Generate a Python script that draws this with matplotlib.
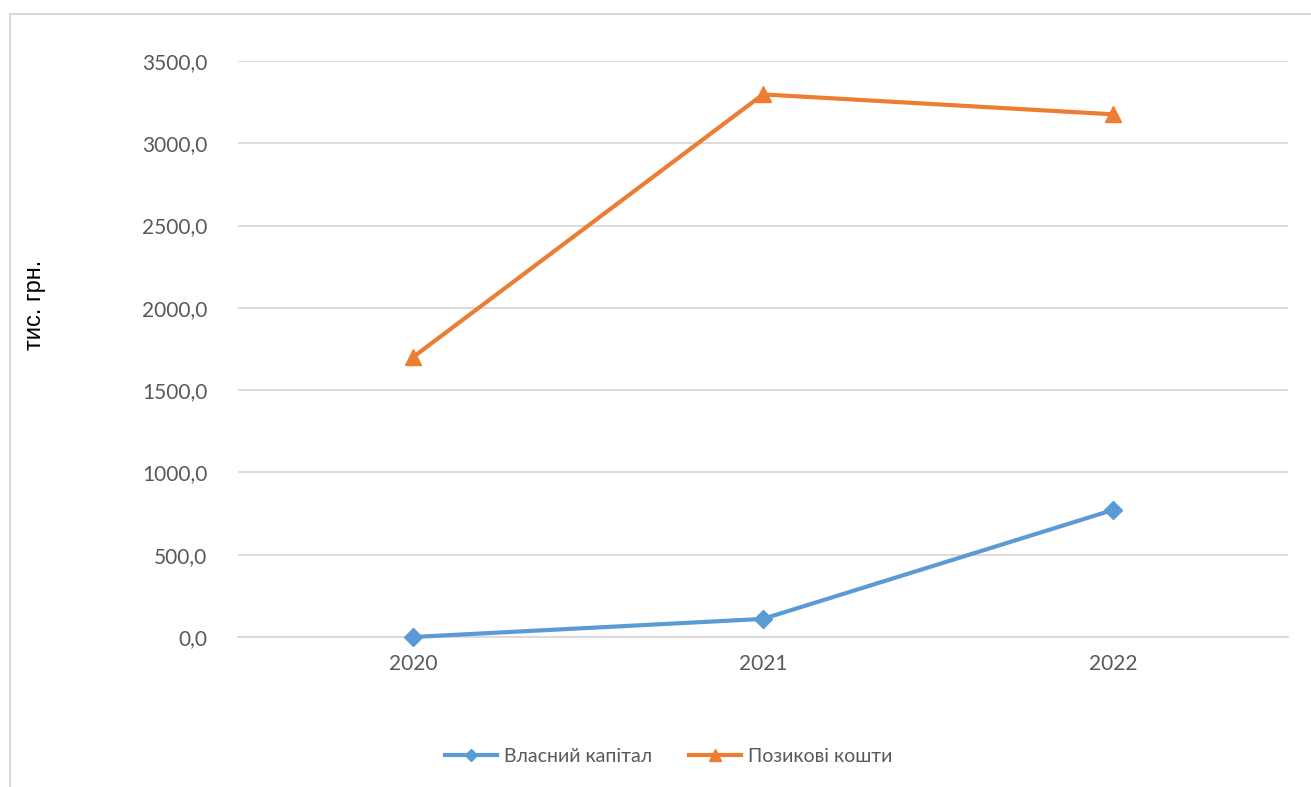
import matplotlib.pyplot as plt
from matplotlib.patches import Rectangle

years = ['2020', '2021', '2022']
own_capital = [0.0, 110.0, 772.0]
borrowed = [1700.0, 3297.0, 3176.0]

plt.rcParams['font.family'] = ['Lato', 'DejaVu Sans']

fig = plt.figure(figsize=(13.11, 7.87), dpi=100)
ax = fig.add_axes([0.1815, 0.1906, 0.801, 0.7319])

x = range(len(years))
ax.plot(x, own_capital, color='#5b9bd5', lw=3, marker='D', ms=9,
        label='Власний капітал', clip_on=False, zorder=3)
ax.plot(x, borrowed, color='#ed7d31', lw=3, marker='^', ms=12,
        label='Позикові кошти', clip_on=False, zorder=3)

ax.set_xlim(-0.5, 2.5)
ax.set_ylim(0, 3500)
ax.set_yticks(range(0, 3501, 500))
ax.set_yticklabels([f'{v:.1f}'.replace('.', ',') for v in range(0, 3501, 500)])
ax.set_xticks(list(x))
ax.set_xticklabels(years)
ax.grid(axis='y', color='#d9d9d9', lw=1.3)
ax.set_axisbelow(True)
for s in ['top', 'right', 'left']:
    ax.spines[s].set_visible(False)
ax.spines['bottom'].set_color('#d9d9d9')
ax.spines['bottom'].set_linewidth(1.3)
ax.tick_params(length=0, labelsize=15, labelcolor='#595959', pad=12)
ax.tick_params(axis='y', pad=22)

ax.set_ylabel('тис. грн.', family=['Liberation Sans'], fontsize=17)
ax.yaxis.set_label_coords(-0.183, 0.576)

fig.legend(loc='center', bbox_to_anchor=(0.51, 0.039), ncol=2, frameon=False,
           fontsize=14, labelcolor='#595959', handlelength=2.7, handletextpad=0.35,
           columnspacing=1.9, markerscale=0.7)

# chart border
fig.patches.append(Rectangle((10 / 1311, -0.05), 1.1, 1 - 14 / 787 + 0.05,
                             transform=fig.transFigure, fill=False,
                             edgecolor='#d9d9d9', lw=1.5))

fig.savefig('out.png', dpi=100)
